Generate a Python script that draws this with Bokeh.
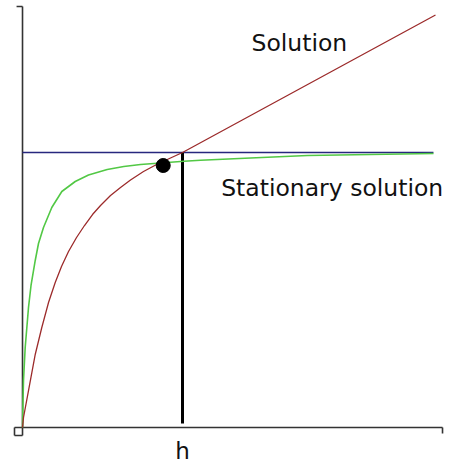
from bokeh.plotting import figure
from bokeh.models import Range1d
from bokeh.core.properties import value
from bokeh.embed import file_html
from bokeh.resources import INLINE

# Time axis t in [0, 10]; value axis in [0, 15]
h = 3.874             # time at which the solution meets the stationary level
stationary_level = 10.0

# Full (time-dependent) solution
sol_t = [0.0, 0.024, 0.145, 0.308, 0.467, 0.630, 0.792, 0.944, 1.114, 1.308,
         1.501, 1.695, 1.889, 2.131, 2.373, 2.615, 2.930, 3.269, 3.584, 3.874, 10.0]
sol_y = [0.0, 0.364, 1.345, 2.655, 3.636, 4.545, 5.273, 5.855, 6.400, 6.909,
         7.345, 7.745, 8.073, 8.436, 8.727, 9.000, 9.309, 9.582, 9.800, 10.0, 15.0]

# Stationary solution
stat_t = [0.0, 0.012, 0.024, 0.065, 0.145, 0.206, 0.308, 0.387, 0.508, 0.709,
          0.952, 1.276, 1.598, 2.051, 2.453, 2.857, 3.262, 3.906, 4.310, 5.521,
          6.901, 8.426, 9.952]
stat_y = [0.0, 0.982, 1.709, 2.909, 4.364, 5.164, 6.073, 6.691, 7.273, 8.000,
          8.582, 8.945, 9.182, 9.382, 9.491, 9.564, 9.611, 9.684, 9.716, 9.800,
          9.891, 9.927, 9.964]

# Marked point where both curves approach each other
dot_t = [3.407]
dot_y = [9.527]

# Extent of the drawn axis lines
t_axis = [-0.194, 10.17]
y_axis = [-0.29, 15.31]

p = figure(width=449, height=466, x_range=Range1d(-0.533, 10.339),
           y_range=Range1d(-1.418, 15.527), x_axis_type=None, y_axis_type=None,
           toolbar_location=None, output_backend="svg", min_border=0)
p.grid.visible = False
p.outline_line_color = None

axis_color = "#333333"
# vertical axis with end ticks
p.segment(x0=[0, t_axis[0] + 0.05, t_axis[0]], y0=[y_axis[0], y_axis[1], y_axis[0]],
          x1=[0, 0, 0], y1=[y_axis[1], y_axis[1], y_axis[0]],
          line_color=axis_color, line_width=1.6)
# horizontal axis with end ticks
p.segment(x0=[t_axis[0], t_axis[0], t_axis[1]], y0=[0, 0, 0],
          x1=[t_axis[1], t_axis[0], t_axis[1]], y1=[0, y_axis[0], y_axis[0] + 0.07],
          line_color=axis_color, line_width=1.6)

# stationary level
p.line([0, 9.95], [stationary_level, stationary_level], line_color="#27277e", line_width=1.4)
# marker at t = h
p.line([h, h], [0.15, stationary_level], line_color="black", line_width=3)

p.line(stat_t, stat_y, line_color="#52c845", line_width=1.6, line_join="round")
p.line(sol_t, sol_y, line_color="#9c2b2b", line_width=1.3, line_join="round")

p.scatter(dot_t, dot_y, size=14, fill_color="black", line_color="black")

font = value("DejaVu Sans")
p.text(x=[5.545], y=[13.99], text=["Solution"], text_font=font,
       text_font_size="23.5px", text_color="#111111",
       text_align="left", text_baseline="alphabetic")
p.text(x=[4.81], y=[8.72], text=["Stationary solution"], text_font=font,
       text_font_size="23.5px", text_color="#111111",
       text_align="left", text_baseline="alphabetic")
p.text(x=[h], y=[-0.845], text=["h"], text_font=font,
       text_font_size="23px", text_color="#111111",
       text_align="center", text_baseline="alphabetic")

open("out.html", "w").write(file_html(p, INLINE))
